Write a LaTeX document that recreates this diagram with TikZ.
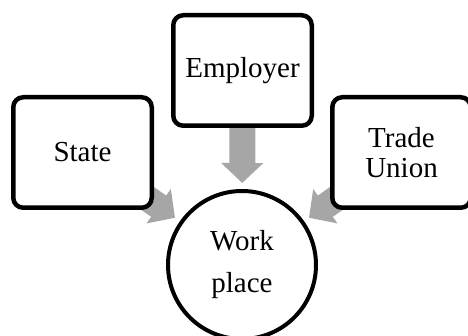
\documentclass[tikz,border=0pt]{standalone}
\usepackage{fontspec}
\setmainfont{Liberation Serif}
\usetikzlibrary{arrows.meta,backgrounds}
\definecolor{arrowgray}{RGB}{166,166,166}
\begin{document}
\begin{tikzpicture}[x=1pt,y=-1pt,
  boxnode/.style={draw=black,line width=4.5pt,rounded corners=10pt,fill=white,
    minimum width=138.5pt,minimum height=110.5pt,inner sep=0pt,align=center,
    font=\fontsize{29}{30}\selectfont},
  circnode/.style={draw=black,line width=4pt,circle,fill=white,minimum size=148pt,
    inner sep=0pt,align=center,font=\fontsize{29}{42}\selectfont},
  bigarrow/.style={draw=arrowgray,line width=26pt,shorten >=6pt,
    -{Triangle[width=41pt,length=20pt,fill=arrowgray]}}]
\useasboundingbox (0,0) rectangle (468,336);
\node[boxnode] (employer) at (242.5,70.5) {Employer};
\node[boxnode] (state) at (82.5,152.5) {State};
\node[boxnode] (union) at (401.5,152.5) {Trade\\Union};
\node[circnode] (work) at (242,265) {Work\\place};
\begin{scope}[on background layer]
\draw[bigarrow] (employer.center) -- (work);
\draw[bigarrow] (state.center) -- (work);
\draw[bigarrow] (union.center) -- (work);
\end{scope}
\end{tikzpicture}
\end{document}
